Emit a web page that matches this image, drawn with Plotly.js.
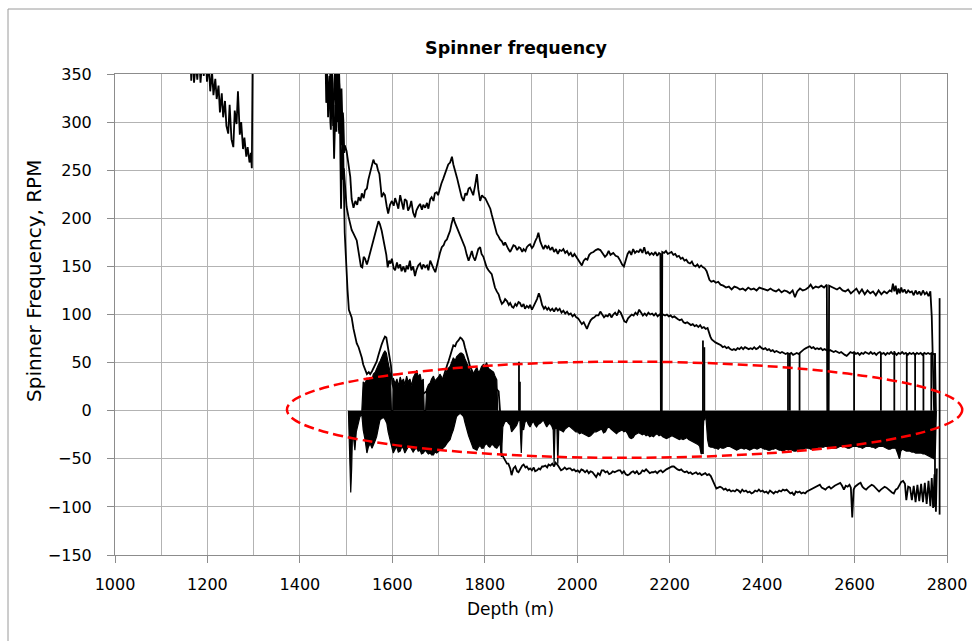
<!DOCTYPE html>
<html><head><meta charset="utf-8">
<script src="https://cdn.plot.ly/plotly-3.0.1.min.js"></script>
<style>html,body{margin:0;padding:0;background:#fff}#chart{width:972px;height:641px}</style>
</head><body><div id="chart"></div>
<script>
// ---------- data (depth m, spinner RPM) ----------
const depthRange = [1000, 2800];
const rpmRange = [-150, 350];
const chartTitle = 'Spinner frequency';
const xTitle = 'Depth (m)';
const yTitle = 'Spinner Frequency, RPM';

// short early pass 1160-1300 m
const earlyPass = [[1162,380],[1165,343],[1168,375],[1171,341],[1175,362],[1178,344],[1182,370],[1185,341],[1189,366],[1192,348],[1196,372],[1199,342],[1203,360],[1206,332],[1210,352],[1213,328],[1217,345],[1220,324],[1224,338],[1227,310],[1231,330],[1234,305],[1238,322],[1241,296],[1245,288],[1248,318],[1252,282],[1256,274],[1259,312],[1263,298],[1266,332],[1270,287],[1273,300],[1277,272],[1280,284],[1284,264],[1287,274],[1291,258],[1294,268],[1296,252],[1298,380]];

// highest-speed pass
const upperPass = [[1455,380],[1457,320],[1459,352],[1461,305],[1463,338],[1464,348],[1466,300],[1467,292],[1469,340],[1470,335],[1472,296],[1473,312],[1475,345],[1476,358],[1478,318],[1479,300],[1481,336],[1482,342],[1484,296],[1485,288],[1487,330],[1488,322],[1490,276],[1491,282],[1493,310],[1494,302],[1496,268],[1497,276],[1501,270],[1505,256],[1509,243],[1512,220],[1516,211],[1520,218],[1524,214],[1527,222],[1531,218],[1534,226],[1538,221],[1541,229],[1545,231],[1548,240],[1552,247],[1555,254],[1559,261],[1562,257],[1566,256],[1569,250],[1572,246],[1575,232],[1577,222],[1581,226],[1584,224],[1588,212],[1591,205],[1595,214],[1599,218],[1603,213],[1606,221],[1610,215],[1613,210],[1617,224],[1620,216],[1624,209],[1627,220],[1631,218],[1634,208],[1638,212],[1641,218],[1645,206],[1649,201],[1652,208],[1656,212],[1660,215],[1664,209],[1667,214],[1671,211],[1675,216],[1678,210],[1682,220],[1685,222],[1689,218],[1692,226],[1696,227],[1699,224],[1703,232],[1706,236],[1710,241],[1714,246],[1717,250],[1721,256],[1725,258],[1729,264],[1732,256],[1736,250],[1740,242],[1743,236],[1747,229],[1750,222],[1754,218],[1758,226],[1761,224],[1765,231],[1768,232],[1772,228],[1775,224],[1779,234],[1783,246],[1786,230],[1790,218],[1794,224],[1797,222],[1801,221],[1805,217],[1808,215],[1812,210],[1815,204],[1819,196],[1823,188],[1826,184],[1830,181],[1833,178],[1837,176],[1841,172],[1844,175],[1848,170],[1851,168],[1855,165],[1859,169],[1862,172],[1866,171],[1870,167],[1874,170],[1877,169],[1881,165],[1884,168],[1888,166],[1891,170],[1895,172],[1898,173],[1902,169],[1905,171],[1909,176],[1913,180],[1916,185],[1920,176],[1924,171],[1927,168],[1931,172],[1935,169],[1938,171],[1942,167],[1946,170],[1950,165],[1954,168],[1958,163],[1962,167],[1966,166],[1970,168],[1974,164],[1978,166],[1982,162],[1986,164],[1990,160],[1994,163],[1998,160],[2002,157],[2006,154],[2010,151],[2014,156],[2018,158],[2022,157],[2026,162],[2030,164],[2035,165],[2040,167],[2045,168],[2050,167],[2055,163],[2060,160],[2064,162],[2068,166],[2072,162],[2078,164],[2083,161],[2088,160],[2093,156],[2097,152],[2101,150],[2105,158],[2109,163],[2113,166],[2117,162],[2121,168],[2125,164],[2129,166],[2133,165],[2137,168],[2141,164],[2145,170],[2149,163],[2153,165],[2157,162],[2161,164],[2165,162],[2169,165],[2173,161],[2177,164],[2180,163],[2181,0],[2183,0],[2184,165],[2188,164],[2192,166],[2196,163],[2200,164],[2204,165],[2208,162],[2212,163],[2216,160],[2220,161],[2224,158],[2228,159],[2232,156],[2236,157],[2240,154],[2244,153],[2248,155],[2252,151],[2256,150],[2260,152],[2264,149],[2268,151],[2272,149],[2276,148],[2280,145],[2283,139],[2286,136],[2290,134],[2295,135],[2300,133],[2305,134],[2310,131],[2316,130],[2322,128],[2328,129],[2334,126],[2340,129],[2346,128],[2352,126],[2358,127],[2364,125],[2370,128],[2376,126],[2382,127],[2388,125],[2394,128],[2400,127],[2406,126],[2412,125],[2418,127],[2424,125],[2430,124],[2436,126],[2442,123],[2448,125],[2454,124],[2460,122],[2466,125],[2471,118],[2476,124],[2482,127],[2488,125],[2494,126],[2500,128],[2505,131],[2510,127],[2516,129],[2522,128],[2528,130],[2534,128],[2540,131],[2541,0],[2544,0],[2545,130],[2550,129],[2556,127],[2562,126],[2568,128],[2574,125],[2580,124],[2586,126],[2592,122],[2598,125],[2604,127],[2610,122],[2616,126],[2622,121],[2628,125],[2634,122],[2640,124],[2646,120],[2652,125],[2658,121],[2664,124],[2670,122],[2676,125],[2680,124],[2683,132],[2686,124],[2689,130],[2692,121],[2695,127],[2698,122],[2701,128],[2704,123],[2708,126],[2712,122],[2716,125],[2720,123],[2724,124],[2728,120],[2732,125],[2736,121],[2740,124],[2744,120],[2748,125],[2752,121],[2756,123],[2760,119],[2764,124],[2767,98],[2770,20],[2772,0]];

// middle-speed pass
const middlePass = [[1465,380],[1466,330],[1468,322],[1469,355],[1471,340],[1473,300],[1474,262],[1476,300],[1477,318],[1479,290],[1480,352],[1482,320],[1483,300],[1485,340],[1486,328],[1488,250],[1489,210],[1491,260],[1492,288],[1494,240],[1495,252],[1498,232],[1501,212],[1505,202],[1509,194],[1512,188],[1516,184],[1520,180],[1523,177],[1526,168],[1529,156],[1532,150],[1535,149],[1538,160],[1541,158],[1545,152],[1548,157],[1552,165],[1555,170],[1559,176],[1562,182],[1566,190],[1570,197],[1573,194],[1577,187],[1580,180],[1584,170],[1587,162],[1590,149],[1593,156],[1596,153],[1599,158],[1603,148],[1606,146],[1610,154],[1613,148],[1617,152],[1620,145],[1624,150],[1628,144],[1631,151],[1634,147],[1638,156],[1641,146],[1645,150],[1649,140],[1652,146],[1656,151],[1660,153],[1664,147],[1667,152],[1671,149],[1675,151],[1678,146],[1682,156],[1686,150],[1689,148],[1693,144],[1696,150],[1700,160],[1703,164],[1707,170],[1711,172],[1714,176],[1718,178],[1721,182],[1725,187],[1728,194],[1732,201],[1735,196],[1739,191],[1743,186],[1746,184],[1750,178],[1754,172],[1757,170],[1761,162],[1765,156],[1768,160],[1772,166],[1775,160],[1779,156],[1783,163],[1786,168],[1790,170],[1793,163],[1797,160],[1800,155],[1804,149],[1808,146],[1811,144],[1815,142],[1819,134],[1822,128],[1826,124],[1830,121],[1833,116],[1837,111],[1841,113],[1844,116],[1848,114],[1852,110],[1855,112],[1859,108],[1862,107],[1866,111],[1869,109],[1873,113],[1876,112],[1880,108],[1884,111],[1887,106],[1891,109],[1895,107],[1898,110],[1902,105],[1905,108],[1909,112],[1913,116],[1917,122],[1920,118],[1924,110],[1928,106],[1931,108],[1935,105],[1938,107],[1942,104],[1946,106],[1950,103],[1954,107],[1958,104],[1962,106],[1966,102],[1970,104],[1974,101],[1978,103],[1982,100],[1986,101],[1990,98],[1994,100],[1998,97],[2002,96],[2006,93],[2010,90],[2014,92],[2018,87],[2021,85],[2025,90],[2029,94],[2033,96],[2037,97],[2041,99],[2046,99],[2050,103],[2054,100],[2058,97],[2062,99],[2066,98],[2070,101],[2074,97],[2078,100],[2082,102],[2086,99],[2090,104],[2094,102],[2098,97],[2102,93],[2106,92],[2110,96],[2114,98],[2118,100],[2122,99],[2126,102],[2130,100],[2134,105],[2138,102],[2142,99],[2146,101],[2150,99],[2154,102],[2158,100],[2162,101],[2166,99],[2170,101],[2174,98],[2178,100],[2182,98],[2186,100],[2190,99],[2194,100],[2198,98],[2202,99],[2206,97],[2210,98],[2214,96],[2218,95],[2222,94],[2226,95],[2230,92],[2234,91],[2238,92],[2242,90],[2246,89],[2250,90],[2254,88],[2258,89],[2262,87],[2266,89],[2270,86],[2274,87],[2278,85],[2282,86],[2285,80],[2288,77],[2291,74],[2295,72],[2299,71],[2303,70],[2307,69],[2311,68],[2315,66],[2319,67],[2323,65],[2327,66],[2331,64],[2335,63],[2339,64],[2343,63],[2347,65],[2351,64],[2355,66],[2359,64],[2363,66],[2367,65],[2371,64],[2375,65],[2379,64],[2383,66],[2387,64],[2391,65],[2395,67],[2399,65],[2403,64],[2407,65],[2411,63],[2415,64],[2419,62],[2423,63],[2427,61],[2431,62],[2435,61],[2439,60],[2443,61],[2447,60],[2451,59],[2455,60],[2459,59],[2463,60],[2467,58],[2471,59],[2475,60],[2479,59],[2483,61],[2487,63],[2491,64],[2495,65],[2499,66],[2503,67],[2507,65],[2511,66],[2515,64],[2519,65],[2523,64],[2527,65],[2531,63],[2535,64],[2539,63],[2543,62],[2547,63],[2551,62],[2555,61],[2559,62],[2563,61],[2567,60],[2571,61],[2575,59],[2579,58],[2583,57],[2587,59],[2591,61],[2595,60],[2599,61],[2603,59],[2607,60],[2611,58],[2615,60],[2619,59],[2623,61],[2627,60],[2631,59],[2635,61],[2639,59],[2643,60],[2647,58],[2651,60],[2655,61],[2659,59],[2663,60],[2667,58],[2671,60],[2675,59],[2679,61],[2683,59],[2687,60],[2691,58],[2695,60],[2699,59],[2703,61],[2707,59],[2711,60],[2715,58],[2719,60],[2723,59],[2727,60],[2731,58],[2735,60],[2739,59],[2743,60],[2747,58],[2751,60],[2755,59],[2759,60],[2763,59],[2767,60],[2771,59],[2774,58],[2776,0]];

// lowest pass: descent, bumps over the oscillation, then negative branch
const lowerPass = [[1478,380],[1480,340],[1482,330],[1484,365],[1485,352],[1487,318],[1488,300],[1490,335],[1491,322],[1493,280],[1494,262],[1497,185],[1500,150],[1503,126],[1506,105],[1509,100],[1512,97],[1516,85],[1519,77],[1523,70],[1527,66],[1530,62],[1534,55],[1537,48],[1541,42],[1545,38],[1549,40],[1552,38],[1556,41],[1559,44],[1563,47],[1566,51],[1570,58],[1573,64],[1577,69],[1581,74],[1584,77],[1587,76],[1589,70],[1591,64],[1594,56],[1597,47],[1600,28],[1605,20],[1612,24],[1620,18],[1628,22],[1636,17],[1644,23],[1652,19],[1660,24],[1668,18],[1676,21],[1684,17],[1692,22],[1700,20],[1706,28],[1711,36],[1715,44],[1719,48],[1722,52],[1725,57],[1729,63],[1732,68],[1736,67],[1739,71],[1743,73],[1747,76],[1750,75],[1754,72],[1757,66],[1761,60],[1765,52],[1768,46],[1772,42],[1776,38],[1782,30],[1790,26],[1798,30],[1806,24],[1814,28],[1822,24],[1830,20],[1833,0],[1836,-44],[1840,-48],[1844,-52],[1848,-55],[1851,-55],[1855,-60],[1858,-67],[1862,-60],[1866,-58],[1870,-63],[1873,-64],[1877,-60],[1881,-57],[1884,-56],[1888,-59],[1891,-58],[1895,-61],[1898,-60],[1902,-62],[1906,-59],[1909,-63],[1913,-62],[1917,-60],[1920,-61],[1924,-58],[1927,-58],[1931,-57],[1935,-59],[1938,-56],[1942,-57],[1946,-55],[1950,-58],[1953,-54],[1957,-56],[1961,-59],[1965,-62],[1969,-61],[1973,-59],[1977,-61],[1981,-60],[1985,-60],[1989,-62],[1993,-61],[1997,-63],[2001,-62],[2005,-64],[2009,-61],[2013,-62],[2017,-64],[2021,-62],[2025,-65],[2029,-63],[2033,-64],[2037,-66],[2041,-69],[2045,-65],[2049,-67],[2053,-62],[2057,-62],[2061,-64],[2065,-63],[2069,-66],[2073,-65],[2077,-63],[2081,-64],[2085,-63],[2089,-62],[2093,-62],[2097,-65],[2101,-63],[2105,-66],[2109,-67],[2113,-66],[2117,-64],[2121,-63],[2125,-65],[2129,-63],[2133,-66],[2137,-65],[2141,-62],[2145,-63],[2149,-61],[2153,-63],[2157,-65],[2161,-64],[2165,-64],[2169,-63],[2173,-65],[2177,-63],[2181,-62],[2185,-64],[2189,-62],[2193,-61],[2197,-60],[2201,-59],[2205,-58],[2209,-58],[2213,-60],[2217,-61],[2221,-62],[2225,-61],[2229,-63],[2233,-64],[2237,-63],[2241,-65],[2245,-64],[2249,-66],[2253,-65],[2257,-64],[2261,-66],[2265,-65],[2269,-67],[2273,-66],[2277,-65],[2281,-67],[2285,-66],[2289,-68],[2293,-72],[2297,-77],[2301,-81],[2305,-80],[2309,-79],[2313,-80],[2317,-82],[2321,-81],[2325,-83],[2329,-82],[2333,-84],[2337,-83],[2341,-84],[2345,-82],[2349,-83],[2353,-85],[2357,-82],[2361,-84],[2365,-83],[2369,-85],[2373,-84],[2377,-86],[2381,-85],[2385,-83],[2389,-84],[2393,-82],[2397,-84],[2401,-83],[2405,-85],[2409,-84],[2413,-86],[2417,-83],[2421,-85],[2425,-86],[2429,-84],[2433,-85],[2437,-83],[2441,-84],[2445,-82],[2449,-83],[2453,-82],[2457,-84],[2461,-86],[2465,-85],[2469,-88],[2473,-84],[2477,-85],[2481,-84],[2485,-86],[2489,-85],[2493,-86],[2497,-84],[2501,-83],[2505,-82],[2509,-81],[2513,-80],[2517,-79],[2521,-78],[2525,-77],[2529,-80],[2533,-81],[2537,-82],[2541,-80],[2545,-79],[2549,-81],[2553,-79],[2557,-78],[2561,-77],[2565,-76],[2569,-75],[2573,-78],[2577,-82],[2581,-78],[2585,-79],[2589,-77],[2592,-80],[2595,-111],[2598,-82],[2601,-79],[2605,-77],[2609,-76],[2613,-75],[2617,-79],[2621,-81],[2625,-82],[2629,-80],[2633,-78],[2637,-77],[2641,-78],[2645,-80],[2649,-82],[2653,-84],[2657,-82],[2661,-80],[2665,-79],[2669,-80],[2673,-82],[2677,-84],[2681,-85],[2685,-86],[2689,-82],[2693,-81],[2697,-78],[2701,-74],[2705,-73],[2709,-76],[2712,-93],[2716,-79],[2720,-80],[2724,-93],[2728,-78],[2732,-95],[2736,-77],[2740,-94],[2744,-76],[2748,-95],[2752,-75],[2756,-97],[2760,-73],[2764,-99],[2767,-70],[2770,-101],[2773,-66],[2776,-105],[2778,-60]];

// envelope of the fast zero-crossing oscillation, positive side
const oscillationTop = [[1534,0],[1537,30],[1541,28],[1545,34],[1549,31],[1552,34],[1556,33],[1559,38],[1563,40],[1566,44],[1570,48],[1574,52],[1577,56],[1581,60],[1584,62],[1587,60],[1590,52],[1593,44],[1596,38],[1598,0],[1601,0],[1602,34],[1606,28],[1610,33],[1613,25],[1617,35],[1620,30],[1624,33],[1627,27],[1631,36],[1634,30],[1638,33],[1642,26],[1645,34],[1649,38],[1653,42],[1656,35],[1660,38],[1663,30],[1667,33],[1669,0],[1672,0],[1674,22],[1678,27],[1682,29],[1685,33],[1689,36],[1692,31],[1696,33],[1700,35],[1703,38],[1707,34],[1710,32],[1714,38],[1718,42],[1721,44],[1725,46],[1728,50],[1732,55],[1736,52],[1739,56],[1743,58],[1747,60],[1750,60],[1754,58],[1757,54],[1761,50],[1765,45],[1768,42],[1772,40],[1775,37],[1779,42],[1783,45],[1786,40],[1790,42],[1793,46],[1797,48],[1800,46],[1804,50],[1808,44],[1811,43],[1815,41],[1819,40],[1822,36],[1826,32],[1828,0]];

// envelope of the oscillation, negative side
const oscillationBottom = [[1505,0],[1508,-40],[1510,-85],[1512,-60],[1514,-20],[1516,-28],[1519,-41],[1522,-22],[1526,-12],[1530,-6],[1534,-4],[1537,-20],[1541,-30],[1545,-44],[1548,-38],[1552,-34],[1556,-39],[1559,-36],[1563,-31],[1566,-27],[1570,-18],[1573,-10],[1577,-8],[1581,-7],[1584,-9],[1588,-13],[1591,-22],[1595,-30],[1598,-38],[1602,-44],[1606,-40],[1609,-37],[1613,-43],[1617,-42],[1620,-38],[1624,-39],[1627,-44],[1631,-41],[1634,-38],[1638,-37],[1642,-40],[1645,-43],[1649,-40],[1653,-39],[1656,-42],[1660,-41],[1663,-45],[1667,-44],[1671,-41],[1674,-43],[1678,-45],[1682,-44],[1685,-46],[1689,-46],[1692,-43],[1696,-44],[1700,-42],[1703,-41],[1707,-40],[1710,-39],[1714,-37],[1718,-34],[1721,-32],[1725,-30],[1728,-25],[1732,-20],[1736,-12],[1739,-6],[1743,-4],[1747,-3],[1750,-4],[1754,-6],[1757,-12],[1761,-20],[1765,-26],[1768,-30],[1772,-35],[1775,-39],[1779,-40],[1783,-41],[1786,-38],[1790,-36],[1793,-39],[1797,-39],[1800,-36],[1804,-34],[1808,-37],[1811,-38],[1815,-35],[1819,-36],[1822,-38],[1826,-39],[1830,-36],[1833,-34],[1836,-48],[1839,-17],[1843,-12],[1847,-10],[1851,-13],[1855,-15],[1858,-22],[1862,-20],[1866,-17],[1869,-15],[1873,-10],[1876,-10],[1879,-44],[1881,-18],[1884,-20],[1887,-12],[1891,-10],[1894,-14],[1898,-17],[1902,-13],[1905,-11],[1909,-15],[1912,-17],[1916,-14],[1920,-13],[1924,-11],[1927,-10],[1931,-14],[1934,-17],[1938,-14],[1941,-13],[1945,-16],[1948,-20],[1950,-55],[1952,-19],[1956,-18],[1958,-55],[1960,-20],[1963,-20],[1967,-21],[1970,-22],[1974,-19],[1978,-17],[1982,-16],[1985,-17],[1989,-19],[1993,-20],[1997,-22],[2001,-22],[2005,-24],[2009,-23],[2013,-24],[2017,-25],[2021,-26],[2025,-27],[2029,-26],[2033,-24],[2037,-22],[2041,-22],[2045,-21],[2049,-20],[2053,-19],[2057,-23],[2061,-22],[2065,-18],[2069,-17],[2073,-19],[2077,-21],[2081,-23],[2085,-24],[2089,-22],[2093,-21],[2097,-20],[2101,-22],[2105,-21],[2109,-24],[2113,-28],[2117,-29],[2121,-28],[2125,-25],[2129,-24],[2133,-23],[2137,-24],[2141,-25],[2145,-24],[2149,-26],[2153,-25],[2157,-27],[2161,-26],[2165,-27],[2169,-25],[2173,-24],[2177,-26],[2181,-25],[2185,-27],[2189,-28],[2193,-29],[2197,-28],[2201,-27],[2205,-26],[2209,-27],[2213,-28],[2217,-29],[2221,-30],[2225,-29],[2229,-30],[2233,-29],[2237,-28],[2241,-30],[2245,-31],[2249,-32],[2253,-33],[2257,-34],[2261,-35],[2265,-37],[2268,-45],[2270,-44],[2272,-30],[2274,-8],[2277,-6],[2279,-10],[2282,-30],[2285,-37],[2289,-38],[2293,-38],[2297,-39],[2301,-39],[2305,-40],[2309,-38],[2313,-39],[2317,-39],[2321,-38],[2325,-37],[2329,-37],[2333,-38],[2337,-39],[2341,-40],[2345,-41],[2349,-40],[2353,-39],[2357,-39],[2361,-40],[2365,-39],[2369,-40],[2373,-41],[2377,-40],[2381,-39],[2385,-39],[2389,-40],[2393,-39],[2397,-38],[2401,-39],[2405,-40],[2409,-40],[2413,-41],[2417,-41],[2421,-40],[2425,-40],[2429,-39],[2433,-40],[2437,-41],[2441,-41],[2445,-42],[2449,-41],[2453,-40],[2457,-41],[2461,-40],[2465,-41],[2469,-42],[2473,-42],[2477,-41],[2481,-40],[2485,-40],[2489,-40],[2493,-39],[2497,-39],[2501,-39],[2505,-40],[2509,-40],[2513,-40],[2517,-39],[2521,-38],[2525,-38],[2529,-38],[2533,-38],[2537,-37],[2541,-37],[2545,-38],[2549,-38],[2553,-39],[2557,-39],[2561,-39],[2565,-38],[2569,-37],[2573,-37],[2577,-37],[2581,-38],[2585,-39],[2589,-39],[2593,-38],[2597,-37],[2601,-37],[2605,-37],[2609,-38],[2613,-38],[2617,-39],[2621,-38],[2625,-37],[2629,-37],[2633,-37],[2637,-38],[2641,-38],[2645,-39],[2649,-38],[2653,-37],[2657,-37],[2661,-37],[2665,-38],[2669,-39],[2673,-40],[2677,-40],[2681,-39],[2685,-39],[2689,-39],[2693,-44],[2697,-50],[2700,-42],[2704,-40],[2708,-41],[2712,-42],[2716,-42],[2720,-42],[2724,-43],[2728,-43],[2732,-44],[2736,-44],[2740,-44],[2744,-44],[2748,-45],[2752,-45],[2756,-46],[2760,-47],[2764,-48],[2768,-49],[2772,-50],[2775,-40],[2777,0]];

// isolated vertical excursions: [depth, from rpm, to rpm]
const spikes = [[1874,0,51],[1876,0,30],[2272,-45,73],[2275,-10,66],[2456,0,60],[2460,0,60],[2481,0,60],[2599,0,60],[2657,0,60],[2686,0,62],[2713,0,60],[2731,0,60],[2749,0,60],[2766,0,60],[2774,-100,60],[2784,-108,117]];

// highlighted zone (red dashed ellipse)
const highlightDepth = [1372, 2833];
const highlightRpm = [-49, 51];

// ---------- drawing ----------
const FONT = 'DejaVu Sans, Verdana, sans-serif';
const W = 972, H = 641, ML = 115, MR = 25, MT = 74, MB = 86;
const plotW = W - ML - MR, plotH = H - MT - MB;
const px = d => (d - depthRange[0]) / (depthRange[1] - depthRange[0]);
const py = v => (v - rpmRange[0]) / (rpmRange[1] - rpmRange[0]);
const pxPix = x => (x - ML) / plotW;          // pixel -> paper (layout only)
const pyPix = y => (MT + plotH - y) / plotH;

const lineStyle = {color: '#000', width: 1.8};
function lineTrace(pairs) {
  return {x: pairs.map(p => p[0]), y: pairs.map(p => p[1]), mode: 'lines', line: lineStyle, hoverinfo: 'skip', showlegend: false};
}
function bandTrace(pairs) {
  return {x: pairs.map(p => p[0]), y: pairs.map(p => p[1]), mode: 'lines', fill: 'tozeroy', fillcolor: '#000',
          line: {color: '#000', width: 1.2}, hoverinfo: 'skip', showlegend: false};
}
const spikeX = [], spikeY = [];
spikes.forEach(s => { spikeX.push(s[0], s[0], null); spikeY.push(s[1], s[2], null); });

const traces = [
  bandTrace(oscillationBottom),
  bandTrace(oscillationTop),
  lineTrace(earlyPass),
  lineTrace(upperPass),
  lineTrace(middlePass),
  lineTrace(lowerPass),
  {x: spikeX, y: spikeY, mode: 'lines', line: lineStyle, hoverinfo: 'skip', showlegend: false, connectgaps: false}
];

const axisCommon = {
  showline: true, linecolor: '#8c8c8c', linewidth: 1, mirror: true,
  showgrid: true, gridcolor: '#b3b3b3', gridwidth: 1, zeroline: false,
  ticks: 'outside', tickcolor: '#8c8c8c', tickwidth: 1,
  tickfont: {family: FONT, size: 16, color: '#000'}, fixedrange: true
};

const layout = {
  width: W, height: H,
  margin: {l: ML, r: MR, t: MT, b: MB, pad: 0},
  paper_bgcolor: '#fff', plot_bgcolor: '#fff',
  title: {text: '<b>' + chartTitle + '</b>', font: {family: FONT, size: 17.5, color: '#000'},
          xref: 'container', yref: 'container', x: 516 / W, xanchor: 'center', y: 1 - 48 / H, yanchor: 'middle'},
  xaxis: Object.assign({}, axisCommon, {
    range: depthRange, tickmode: 'linear', tick0: 1000, dtick: 200, ticklen: 7, ticklabelstandoff: 8,
    minor: {dtick: 100, showgrid: true, gridcolor: '#b3b3b3', ticks: ''}
  }),
  yaxis: Object.assign({}, axisCommon, {
    range: rpmRange, tickmode: 'linear', tick0: -150, dtick: 50, ticklen: 7, ticklabelstandoff: 12
  }),
  annotations: [
    {text: xTitle, xref: 'paper', yref: 'paper', x: pxPix(510), y: pyPix(609), xanchor: 'center', yanchor: 'middle',
     showarrow: false, font: {family: FONT, size: 17, color: '#000'}},
    {text: yTitle, xref: 'paper', yref: 'paper', x: pxPix(34), y: pyPix(281), xanchor: 'center', yanchor: 'middle',
     textangle: -90, showarrow: false, font: {family: FONT, size: 20, color: '#000'}}
  ],
  shapes: [
    {type: 'rect', xref: 'paper', yref: 'paper', layer: 'below',
     x0: pxPix(8), x1: pxPix(W + 20), y0: pyPix(H + 20), y1: pyPix(9),
     line: {color: '#9a9a9a', width: 1}, fillcolor: 'rgba(0,0,0,0)'},
    {type: 'circle', xref: 'paper', yref: 'paper', layer: 'above',
     x0: px(highlightDepth[0]), x1: px(highlightDepth[1]), y0: py(highlightRpm[0]), y1: py(highlightRpm[1]),
     line: {color: '#ff0000', width: 2.5, dash: '10px,5px'}, fillcolor: 'rgba(0,0,0,0)'}
  ],
  showlegend: false
};

Plotly.newPlot('chart', traces, layout, {displayModeBar: false, staticPlot: true});
</script>
</body></html>
